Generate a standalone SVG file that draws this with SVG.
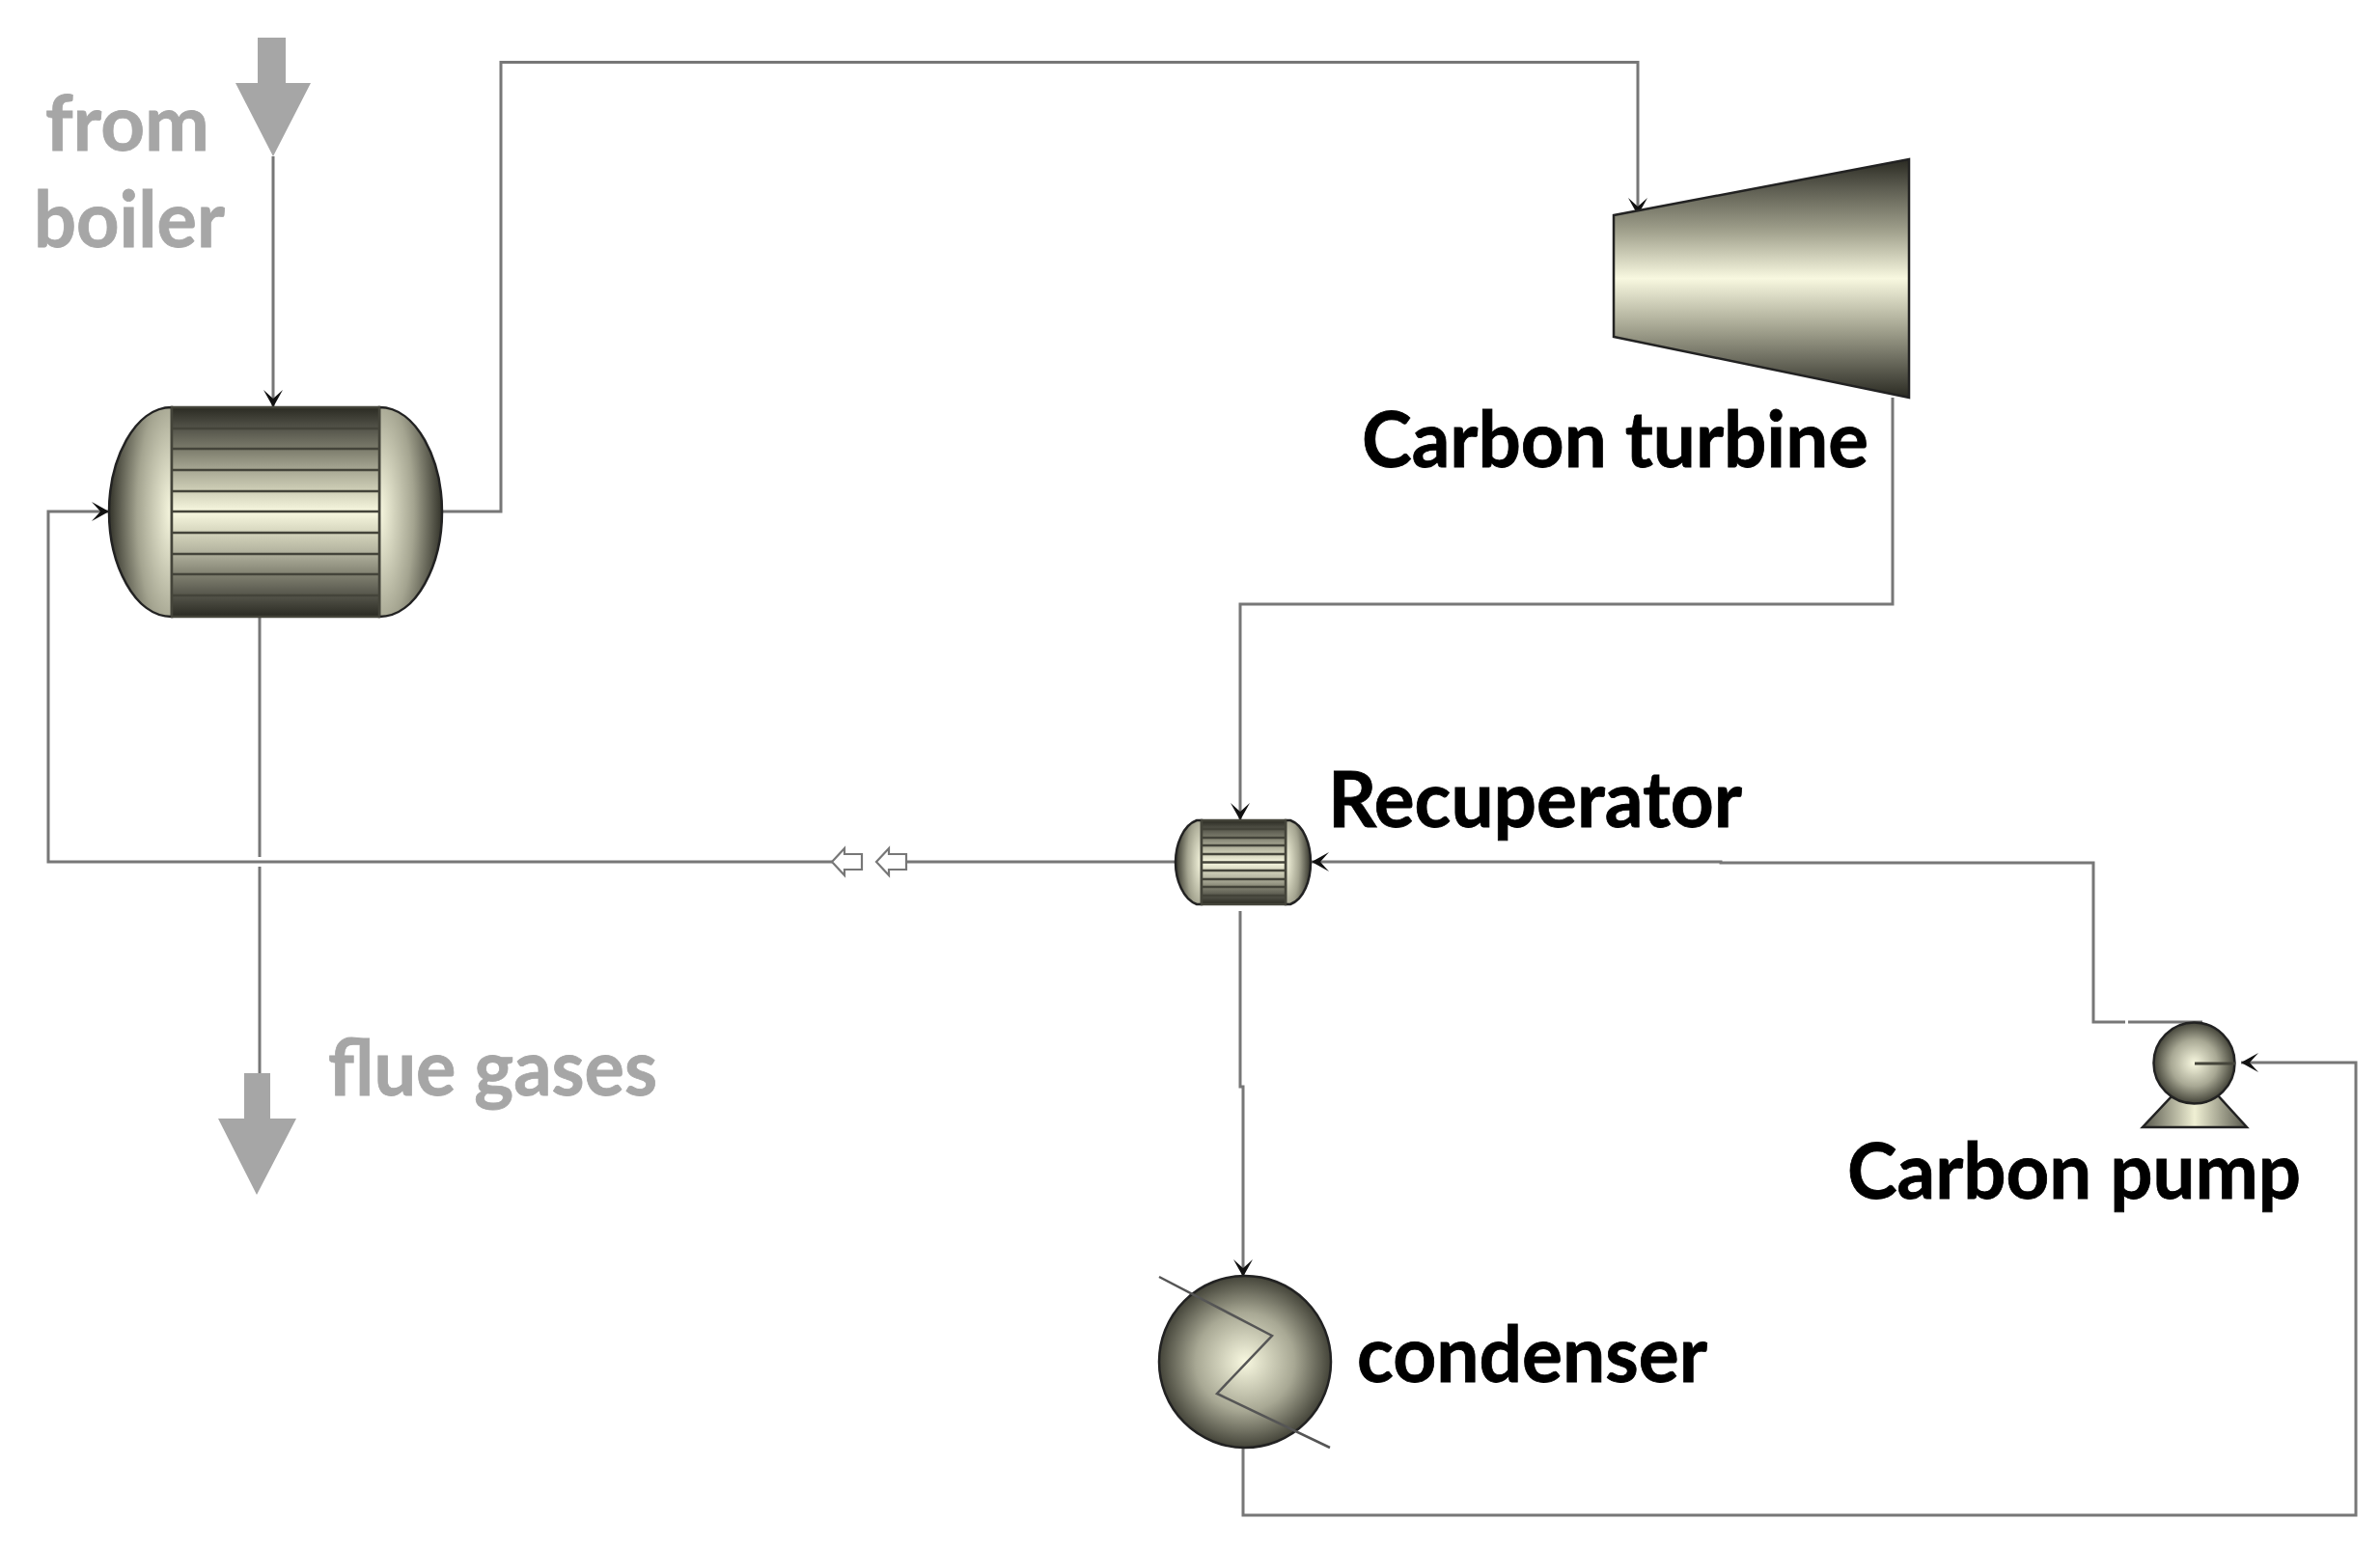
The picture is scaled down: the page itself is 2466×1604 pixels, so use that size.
<svg xmlns="http://www.w3.org/2000/svg" width="2466" height="1604" viewBox="0 0 2466 1604">
<style>
.c{fill:none;stroke:#777;stroke-width:3}
.o{stroke:#222;stroke-width:2.5}
.s{stroke:#44443a;stroke-width:2.5}
.t{font-family:"Lato","Liberation Sans",sans-serif;font-weight:700;font-size:80px;fill:#000;stroke:#000;stroke-width:.8}
.n{fill:#a6a6a6;stroke:#a6a6a6}
.g{fill:#a6a6a6}
.oa{fill:#fff;stroke:#777;stroke-width:2.2}
</style>
<defs>
<linearGradient id="v" x1="0" y1="0" x2="0" y2="1">
<stop offset="0" stop-color="#2a2a22"/><stop offset=".1" stop-color="#54544a"/><stop offset=".2" stop-color="#7c7c6c"/><stop offset=".3" stop-color="#a8a894"/><stop offset=".4" stop-color="#d0d0b8"/><stop offset=".5" stop-color="#f8f8e0"/><stop offset=".6" stop-color="#d4d4bc"/><stop offset=".7" stop-color="#b0b09c"/><stop offset=".8" stop-color="#808070"/><stop offset=".9" stop-color="#54544a"/><stop offset="1" stop-color="#2a2a22"/>
</linearGradient>
<linearGradient id="t" x1="0" y1="0" x2="0" y2="1">
<stop offset="0" stop-color="#2a2a22"/><stop offset=".12" stop-color="#5c5c50"/><stop offset=".3" stop-color="#a0a08c"/><stop offset=".5" stop-color="#f8f8e0"/><stop offset=".7" stop-color="#a8a894"/><stop offset=".88" stop-color="#5c5c50"/><stop offset="1" stop-color="#2a2a22"/>
</linearGradient>
<linearGradient id="p" x1="0" y1="0" x2="1" y2="0"><stop offset="0" stop-color="#55554a"/><stop offset=".5" stop-color="#f0f0d4"/><stop offset="1" stop-color="#55554a"/></linearGradient>
<radialGradient id="hl" cx="1" cy=".5" r="1"><stop offset="0" stop-color="#f8f8e0"/><stop offset=".55" stop-color="#a4a490"/><stop offset="1" stop-color="#33332a"/></radialGradient>
<radialGradient id="hr" cx="0" cy=".5" r="1"><stop offset="0" stop-color="#f8f8e0"/><stop offset=".55" stop-color="#a4a490"/><stop offset="1" stop-color="#33332a"/></radialGradient>
<radialGradient id="b" cx=".5" cy=".5" r=".52"><stop offset="0" stop-color="#f8f8e0"/><stop offset=".55" stop-color="#a8a894"/><stop offset="1" stop-color="#3a3a30"/></radialGradient>
<marker id="a" markerUnits="userSpaceOnUse" markerWidth="22" markerHeight="24" refX="19" refY="12" orient="auto"><path d="M1 2L19 12L1 22L10 12Z" fill="#111"/></marker>
</defs>
<g id="connectors">
<path class="c" d="M283 162V422" marker-end="url(#a)"/>
<path class="c" d="M458 530H519V64.500H1697V223" marker-end="url(#a)"/>
<path class="c" d="M1961 412V626H1285V850" marker-end="url(#a)"/>
<path class="c" d="M1219 893H939M862 893H50V530H113" marker-end="url(#a)"/>
<path class="c" d="M269 639V888M269 898V1112"/>
<path class="c" d="M2282 1059H2205M2202 1059H2169V894H1783V893H1359" marker-end="url(#a)"/>
<path class="c" d="M1285 944V1126H1288V1323" marker-end="url(#a)"/>
<path class="c" d="M1288 1500V1570H2441V1101H2322" marker-end="url(#a)"/>
<polygon class="oa" points="862,893 875,879 875,885 893,885 893,901 875,901 875,907"/>
<polygon class="oa" points="908,893 921,879 921,885 939,885 939,901 921,901 921,907"/>
</g>
<g id="from-boiler">
<polygon class="g" points="267,39 296,39 296,86 322,86 283,162 244,86 267,86"/>
<text class="t n" x="47" y="156" textLength="170" lengthAdjust="spacingAndGlyphs">from</text>
<text class="t n" x="35" y="256" textLength="198" lengthAdjust="spacingAndGlyphs">boiler</text>
</g>
<g id="flue-gases">
<polygon class="g" points="253,1112 280,1112 280,1159 307,1159 266,1238 226,1159 253,1159"/>
<text class="t n" x="340" y="1135" textLength="341" lengthAdjust="spacingAndGlyphs">flue gases</text>
</g>
<g id="heat-exchanger">
<path d="M178 422C139 422 113 477 113 530.500C113 584 139 639 178 639Z" fill="url(#hl)" class="o"/>
<path d="M393 422C432 422 458 477 458 530.500C458 584 432 639 393 639Z" fill="url(#hr)" class="o"/>
<rect x="178" y="422" width="215" height="217" fill="url(#v)" class="s"/>
<path class="s" d="M178 444H393M178 465H393M178 487H393M178 509H393M178 530H393M178 552H393M178 574H393M178 595H393M178 617H393"/>
</g>
<g id="turbine">
<polygon points="1672,223 1978,165 1978,412 1672,349" fill="url(#t)" stroke="#222" stroke-width="2.5"/>
<text class="t" x="1411" y="484" textLength="525" lengthAdjust="spacingAndGlyphs">Carbon turbine</text>
</g>
<g id="recuperator">
<path d="M1245 850H1240C1226 855 1218 875 1218 893.500C1218 912 1226 932 1240 937H1245Z" fill="url(#hl)" class="o"/>
<path d="M1332 850H1337C1351 855 1358 875 1358 893.500C1358 912 1351 932 1337 937H1332Z" fill="url(#hr)" class="o"/>
<rect x="1245" y="850" width="87" height="87" fill="url(#v)" class="s"/>
<path class="s" d="M1245 859H1332M1245 868H1332M1245 876H1332M1245 885H1332M1245 893.500H1332M1245 902H1332M1245 911H1332M1245 919H1332M1245 928H1332"/>
<text class="t" x="1376" y="857" textLength="429" lengthAdjust="spacingAndGlyphs">Recuperator</text>
</g>
<g id="pump">
<polygon points="2220,1168 2328,1168 2297,1134 2252,1134" fill="url(#p)" stroke="#222" stroke-width="2.5"/>
<circle cx="2273.500" cy="1101.500" r="42" fill="url(#b)" stroke="#222" stroke-width="2.5"/>
<path d="M2274 1102H2316" stroke="#44443a" stroke-width="3"/>
<text class="t" x="1914" y="1242" textLength="470" lengthAdjust="spacingAndGlyphs">Carbon pump</text>
</g>
<g id="condenser">
<circle cx="1290" cy="1411" r="89" fill="url(#b)" stroke="#222" stroke-width="2.5"/>
<path d="M1201 1323L1318 1384L1261 1444L1378 1500" fill="none" stroke="#555" stroke-width="2.5"/>
<text class="t" x="1406" y="1432" textLength="363" lengthAdjust="spacingAndGlyphs">condenser</text>
</g>
</svg>
